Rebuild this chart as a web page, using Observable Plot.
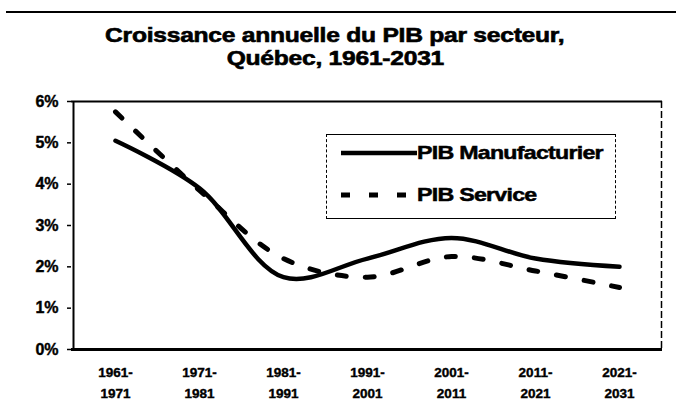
<!DOCTYPE html>
<html>
<head>
<meta charset="utf-8">
<script src="https://cdn.jsdelivr.net/npm/d3@7"></script>
<script src="https://cdn.jsdelivr.net/npm/@observablehq/plot@0.6"></script>
<style>
  html, body { margin: 0; padding: 0; background: #fff; }
  #wrap { position: relative; width: 676px; height: 420px; overflow: hidden; font-family: "Liberation Sans", Arial, sans-serif; }
  #topline { position: absolute; left: 6px; right: 0; top: 11px; border-top: 2px solid #000; }
  .title { position: absolute; left: 0; width: 670px; text-align: center; font-weight: bold; font-size: 20px; color: #000; -webkit-text-stroke: 0.6px #000; letter-spacing: -0.2px; }
  .title span { display: inline-block; transform: scaleX(1.23); }
  #chart { position: absolute; left: 0; top: 80px; }
  #legend { position: absolute; left: 326px; top: 134px; width: 288px; height: 83px; border: 1.5px solid #000; border-left-style: dashed; border-right-style: dashed; background: #fff; }
  .lrow { position: absolute; left: 12px; height: 24px; display: flex; align-items: center; font-weight: bold; font-size: 19px; -webkit-text-stroke: 0.5px #000; letter-spacing: -0.6px; white-space: nowrap; }
  .lrow span { display: inline-block; transform: scaleX(1.22); transform-origin: left center; }
</style>
</head>
<body>
<div id="wrap">
  <div id="topline"></div>
  <div class="title" style="top:24px"><span>Croissance annuelle du PIB par secteur,</span></div>
  <div class="title" style="top:47px"><span>Québec, 1961-2031</span></div>
  <div id="chart"></div>
  <div id="legend"></div>
</div>
<script>
const periods = ["1961-1971", "1971-1981", "1981-1991", "1991-2001", "2001-2011", "2011-2021", "2021-2031"];
const manufacturier = [5.05, 3.9, 1.75, 2.2, 2.7, 2.2, 2.0];
const service = [5.75, 3.85, 2.2, 1.75, 2.25, 1.9, 1.5];
const yTicks = [0, 1, 2, 3, 4, 5, 6];
const seriesNames = ["PIB Manufacturier", "PIB Service"];

const manufData = periods.map((p, i) => ({period: p, value: manufacturier[i]}));
const serviceData = periods.map((p, i) => ({period: p, value: service[i]}));

const plot = Plot.plot({
  width: 676,
  height: 340,
  marginLeft: 71,
  marginRight: 14,
  marginTop: 21,
  marginBottom: 71,
  style: {fontFamily: "'Liberation Sans', Arial, sans-serif", color: "#000", background: "transparent"},
  x: {type: "point", domain: periods, padding: 0.5, label: null},
  y: {domain: [0, 6], label: null},
  marks: [
    Plot.ruleY([6], {stroke: "#000", strokeWidth: 2}),
    Plot.ruleX([periods[periods.length - 1]], {dx: 42, stroke: "#000", strokeWidth: 1.5, strokeDasharray: "7,3"}),
    Plot.axisY({ticks: yTicks, tickFormat: d => d + "%", tickSize: 4, tickPadding: 9, fontSize: 16, fontWeight: "bold", stroke: "#000", strokeWidth: 1.5}),
    Plot.axisX({tickFormat: d => d.replace("-", "-\n"), tickSize: 0, tickPadding: 12, fontSize: 13.5, fontWeight: "bold", lineHeight: 1.6}),
    Plot.ruleX([periods[0]], {dx: -42, stroke: "#000", strokeWidth: 2}),
    Plot.ruleY([0], {stroke: "#000", strokeWidth: 3}),
    Plot.line(serviceData, {x: "period", y: "value", stroke: "#000", strokeWidth: 5, strokeDasharray: "9,19", curve: "catmull-rom"}),
    Plot.line(manufData, {x: "period", y: "value", stroke: "#000", strokeWidth: 4.5, curve: "catmull-rom"})
  ]
});
plot.querySelectorAll("text").forEach(t => { t.style.stroke = "none"; });
plot.querySelectorAll("g[aria-label='x-axis tick label'] text, g[aria-label='y-axis tick label'] text").forEach(t => {
  t.style.stroke = "#000"; t.style.strokeWidth = "0.4px";
});
document.getElementById("chart").appendChild(plot);

// Legend
const legend = document.getElementById("legend");
const styles = [{dash: null, width: 4.5}, {dash: "9,19", width: 5}];
seriesNames.forEach((name, i) => {
  const row = document.createElement("div");
  row.className = "lrow";
  row.style.top = (i === 0 ? 6 : 48) + "px";
  const svg = d3.create("svg").attr("width", 78).attr("height", 24);
  svg.append("line").attr("x1", 2).attr("x2", 78).attr("y1", 12).attr("y2", 12)
    .attr("stroke", "#000").attr("stroke-width", styles[i].width)
    .attr("stroke-dasharray", styles[i].dash);
  row.appendChild(svg.node());
  const span = document.createElement("span");
  span.textContent = name;
  row.appendChild(span);
  legend.appendChild(row);
});
</script>
</body>
</html>
